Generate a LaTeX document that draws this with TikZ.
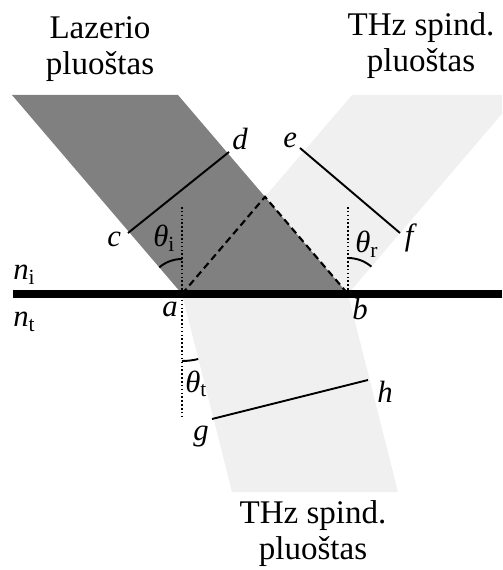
\documentclass[tikz,border=0pt]{standalone}
\usepackage{amsmath}
\usepackage{fontspec}
\setmainfont{Liberation Serif}
\usetikzlibrary{calc}

\begin{document}
\begin{tikzpicture}[every node/.style={font=\fontsize{17.5}{19}\selectfont, inner sep=0pt},
	title/.style={font=\fontsize{18.8}{20.5}\selectfont, align=center},
	front/.style={line width=1.1pt},
	normal/.style={line width=0.9pt, dash pattern=on 0.9pt off 1.3pt}]
	\useasboundingbox (-3.64,-5.52) rectangle (6.40,5.88);
	\coordinate (a) at (0,0);
	\coordinate (b) at (3.32,0);
	% beams
	\begin{scope}
		\clip (-3.64,-5.52) rectangle (6.40,5.88);
		\fill[black!6] (a) -- (b) -- ++(3.4,3.98) -- ($(a)+(3.4,3.98)$) -- cycle;
		\fill[black!6] (a) -- (b) -- ++(1.0,-3.96) -- ($(a)+(1.0,-3.96)$) -- cycle;
		\fill[black!50] (a) -- (b) -- ++(-3.4,3.98) coordinate (l2) -- ($(a)+(-3.4,3.98)$) -- cycle;
	\end{scope}
	\coordinate (r1) at ($(a)+(3.4,3.98)$);
	\coordinate (top) at (intersection of a--r1 and b--l2);
	\draw[line width=1.2pt, dash pattern=on 4pt off 2.4pt] (a) -- (top) -- (b);
	% normals
	\draw[normal] (0,1.74) -- (0,-2.46);
	\draw[normal] (3.32,1.74) -- (b);
	\draw[line width=4pt] (-3.38,0) -- (6.40,0);
	% wavefronts
	\coordinate (c) at (-1.08,1.22);
	\coordinate (d) at (0.94,2.84);
	\coordinate (e) at (2.36,2.92);
	\coordinate (f) at (4.36,1.22);
	\coordinate (g) at (0.6,-2.5);
	\coordinate (h) at (3.72,-1.72);
	\draw[front] (c) -- (d);
	\draw[front] (e) -- (f);
	\draw[front] (g) -- (h);
	% angles
	\draw[front] (0,0.7) arc[start angle=90, end angle=130.5, radius=0.7];
	\draw[front] ($(b)+(0,0.72)$) arc[start angle=90, end angle=49.5, radius=0.72];
	\draw[front] (0,-1.34) arc[start angle=270, end angle=284, radius=1.34];
	% labels
	\node[anchor=base west] (lc) at (-1.50,0.94) {\textit{c}};
	\node[anchor=base west] (ld) at (1.00,2.88) {\textit{d}};
	\node[anchor=base west] (le) at (2.02,2.92) {\textit{e}};
	\node (lf) at (4.58,1.12) {\textit{f}};
	\node[anchor=base west] (lg) at (0.22,-2.92) {\textit{g}};
	\node (lh) at (4.06,-1.96) {\textit{h}};
	\node[anchor=base west] (la) at (-0.40,-0.44) {\textit{a}};
	\node[anchor=base west] (lb) at (3.40,-0.52) {\textit{b}};
	\node[anchor=base west] (ti) at (-0.58,0.94) {$\textit{θ}_{\text{i}}$};
	\node[anchor=base west] (tr) at (3.46,0.82) {$\textit{θ}_{\text{r}}$};
	\node[anchor=base west] (tt) at (0.06,-1.96) {$\textit{θ}_{\text{t}}$};
	\node[anchor=base west] (ni) at (-3.38,0.28) {$\textit{n}_{\text{i}}$};
	\node[anchor=base west] (nt) at (-3.38,-0.66) {$\textit{n}_{\text{t}}$};
	\node[title] (laser) at (-1.64,4.90) {Lazerio\\pluoštas};
	\node[title] (thzr) at (4.78,4.96) {THz spind.\\pluoštas};
	\node[title] (thzt) at (2.62,-4.80) {THz spind.\\pluoštas};
\end{tikzpicture}
\end{document}
